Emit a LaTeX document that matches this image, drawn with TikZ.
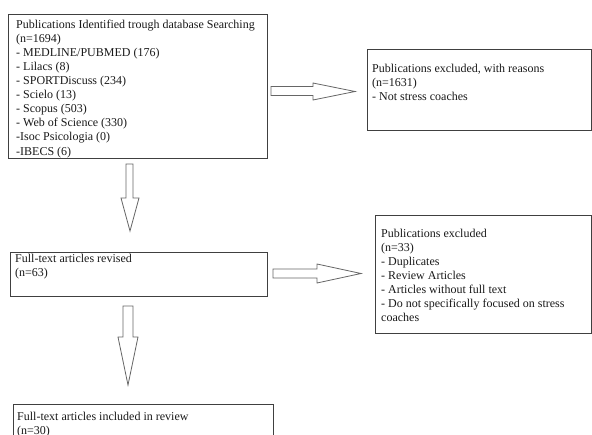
\documentclass[tikz,border=0pt]{standalone}
\usepackage{fontspec}
\setmainfont{Liberation Serif}
\begin{document}
\begin{tikzpicture}[x=1pt,y=-1pt,
  box/.style={draw=black!75, line width=0.9pt, inner sep=0pt},
  txt/.style={anchor=north west, align=left, inner sep=0pt, font=\fontsize{12}{14.1}\selectfont, text=black!90},
  blockarrow/.style={draw=black!60, line width=0.8pt, fill=white, line join=miter}]
\clip (0,0) rectangle (592,434);
% boxes
\draw[box] (8,14) rectangle (267,158);
\node[txt] (t1) at (16,18.1) {\strut Publications Identified trough database Searching\\(n=1694)\\- MEDLINE/PUBMED (176)\\- Lilacs (8)\\- SPORTDiscuss (234)\\- Scielo (13)\\- Scopus (503)\\- Web of Science (330)\\-Isoc Psicologia (0)\\-IBECS (6)};
\draw[box] (367,49) rectangle (591,130);
\node[txt] (t2) at (372,62.1) {\strut Publications excluded, with reasons\\(n=1631)\\- Not stress coaches};
\draw[box] (10,252) rectangle (267,296);
\node[txt] (t3) at (15,252.1) {\strut Full-text articles revised\\(n=63)};
\draw[box] (375,215) rectangle (591,333);
\node[txt] (t4) at (381,227.1) {\strut Publications excluded\\(n=33)\\- Duplicates\\- Review Articles\\- Articles without full text\\- Do not specifically focused on stress\\coaches};
\draw[box] (13,404) rectangle (273,450);
\node[txt] (t5) at (17,410.6) {\strut Full-text articles included in review\\(n=30)};
% block arrows
\draw[blockarrow] (271,86.5) -- (313,86.5) -- (313,83) -- (355,91.5) -- (313,100) -- (313,95.5) -- (271,95.5) -- cycle;
\draw[blockarrow] (126,164) -- (133,164) -- (133,198) -- (139,198) -- (130,231) -- (121,198) -- (126,198) -- cycle;
\draw[blockarrow] (273,269) -- (317,269) -- (317,264) -- (361,273.5) -- (317,283) -- (317,278) -- (273,278) -- cycle;
\draw[blockarrow] (123,306) -- (133,306) -- (133,337) -- (138,337) -- (128,385) -- (118,337) -- (123,337) -- cycle;
\end{tikzpicture}
\end{document}
